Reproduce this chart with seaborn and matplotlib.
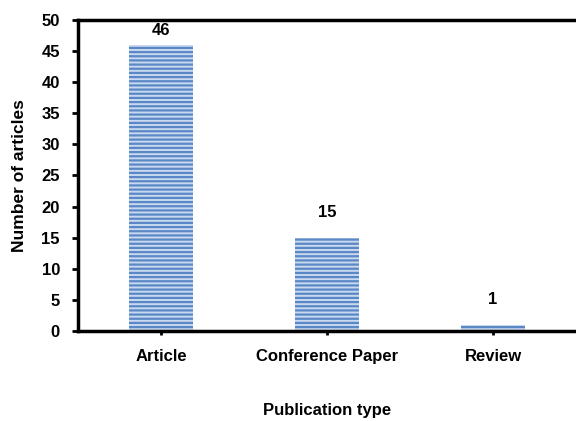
import matplotlib
matplotlib.use("Agg")
import matplotlib.pyplot as plt
import seaborn as sns
import pandas as pd
from matplotlib import font_manager

categories = ["Article", "Conference Paper", "Review"]
counts = [46, 15, 1]
yticks = [0, 5, 10, 15, 20, 25, 30, 35, 40, 45, 50]

sns.set_theme(style="white")
names = {f.name for f in font_manager.fontManager.ttflist}
fam = ["Liberation Sans Narrow", "Liberation Sans", "DejaVu Sans"]
fam = [f for f in fam if f in names] or ["DejaVu Sans"]
plt.rcParams["font.family"] = fam
plt.rcParams["hatch.linewidth"] = 1.6
plt.rcParams["text.color"] = "black"
plt.rcParams["axes.labelcolor"] = "black"
plt.rcParams["xtick.color"] = "black"
plt.rcParams["ytick.color"] = "black"

df = pd.DataFrame({"type": categories, "n": counts})

fig = plt.figure(figsize=(5.76, 4.21), dpi=100)
ax = fig.add_axes([0.1354, 0.2138, 0.8646, 0.7387])
sns.barplot(data=df, x="type", y="n", ax=ax, width=0.38,
            color="#c9daf0", edgecolor="#5a87c5", linewidth=0, hatch="----",
            saturation=1)

for i, v in enumerate(counts):
    off = 5 if v > 44 else 13
    ax.annotate(str(v), xy=(i, v), xytext=(0, off), textcoords="offset points",
                ha="center", va="bottom", fontsize=12, fontweight="bold",
                color="black")

ax.set_ylim(0, 50)
ax.set_xlim(-0.5, 2.5)
ax.set_yticks(yticks)
ax.set_yticklabels([str(v) for v in yticks], fontsize=12, fontweight="bold")
ax.set_xticks(range(len(categories)))
ax.set_xticklabels(categories, fontsize=12, fontweight="bold")
ax.set_xlabel("Publication type", fontsize=12, fontweight="bold", labelpad=28)
ax.set_ylabel("Number of articles", fontsize=12.5, fontweight="bold")
ax.yaxis.set_label_coords(-0.102, 0.5)

for s in ["left", "bottom", "top"]:
    ax.spines[s].set_visible(True)
    ax.spines[s].set_linewidth(2.5)
    ax.spines[s].set_color("black")
ax.spines["right"].set_visible(False)
ax.tick_params(axis="y", direction="out", length=4, width=2, color="black", pad=9, left=True)
ax.tick_params(axis="x", direction="out", length=3, width=2, color="black", pad=10, bottom=True)
ax.grid(False)

fig.savefig("out.png", dpi=100)
